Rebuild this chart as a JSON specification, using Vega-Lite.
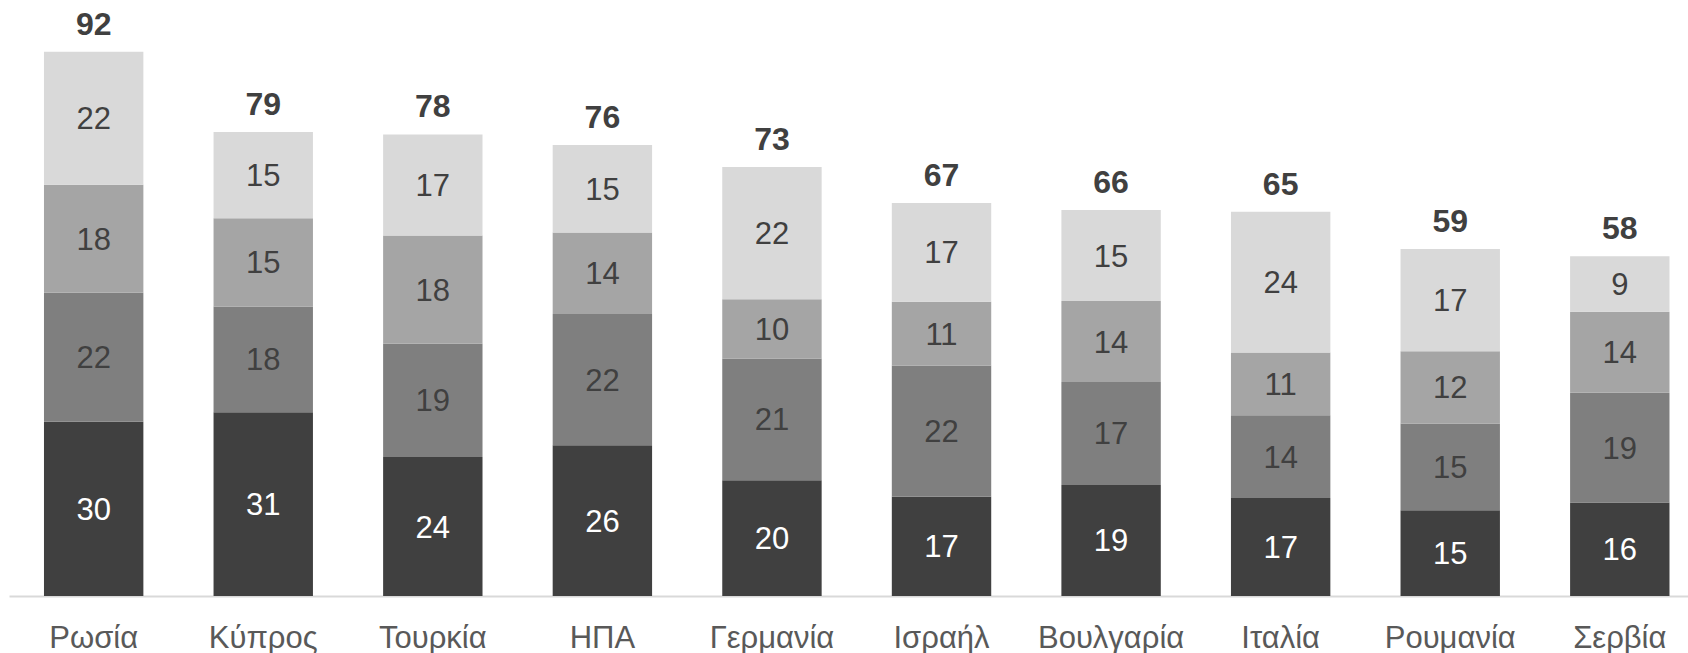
{
  "$schema": "https://vega.github.io/schema/vega-lite/v6.json",
  "autosize": {"type": "none"},
  "padding": {"left": 9, "top": 5, "right": 0, "bottom": 57},
  "width": 1679,
  "height": 591,
  "data": {
    "values": [
      {"country": "Ρωσία", "seg": "seg1", "value": 29.5, "label": 30, "total": 92},
      {"country": "Ρωσία", "seg": "seg2", "value": 21.8, "label": 22, "total": 92},
      {"country": "Ρωσία", "seg": "seg3", "value": 18.3, "label": 18, "total": 92},
      {"country": "Ρωσία", "seg": "seg4", "value": 22.5, "label": 22, "total": 92},
      {"country": "Κύπρος", "seg": "seg1", "value": 31.1, "label": 31, "total": 79},
      {"country": "Κύπρος", "seg": "seg2", "value": 17.9, "label": 18, "total": 79},
      {"country": "Κύπρος", "seg": "seg3", "value": 14.9, "label": 15, "total": 79},
      {"country": "Κύπρος", "seg": "seg4", "value": 14.6, "label": 15, "total": 79},
      {"country": "Τουρκία", "seg": "seg1", "value": 23.5, "label": 24, "total": 78},
      {"country": "Τουρκία", "seg": "seg2", "value": 19.2, "label": 19, "total": 78},
      {"country": "Τουρκία", "seg": "seg3", "value": 18.3, "label": 18, "total": 78},
      {"country": "Τουρκία", "seg": "seg4", "value": 17.1, "label": 17, "total": 78},
      {"country": "ΗΠΑ", "seg": "seg1", "value": 25.5, "label": 26, "total": 76},
      {"country": "ΗΠΑ", "seg": "seg2", "value": 22.2, "label": 22, "total": 76},
      {"country": "ΗΠΑ", "seg": "seg3", "value": 13.8, "label": 14, "total": 76},
      {"country": "ΗΠΑ", "seg": "seg4", "value": 14.8, "label": 15, "total": 76},
      {"country": "Γερμανία", "seg": "seg1", "value": 19.6, "label": 20, "total": 73},
      {"country": "Γερμανία", "seg": "seg2", "value": 20.6, "label": 21, "total": 73},
      {"country": "Γερμανία", "seg": "seg3", "value": 10.0, "label": 10, "total": 73},
      {"country": "Γερμανία", "seg": "seg4", "value": 22.4, "label": 22, "total": 73},
      {"country": "Ισραήλ", "seg": "seg1", "value": 16.8, "label": 17, "total": 67},
      {"country": "Ισραήλ", "seg": "seg2", "value": 22.2, "label": 22, "total": 67},
      {"country": "Ισραήλ", "seg": "seg3", "value": 10.8, "label": 11, "total": 67},
      {"country": "Ισραήλ", "seg": "seg4", "value": 16.7, "label": 17, "total": 67},
      {"country": "Βουλγαρία", "seg": "seg1", "value": 18.8, "label": 19, "total": 66},
      {"country": "Βουλγαρία", "seg": "seg2", "value": 17.4, "label": 17, "total": 66},
      {"country": "Βουλγαρία", "seg": "seg3", "value": 13.7, "label": 14, "total": 66},
      {"country": "Βουλγαρία", "seg": "seg4", "value": 15.4, "label": 15, "total": 66},
      {"country": "Ιταλία", "seg": "seg1", "value": 16.6, "label": 17, "total": 65},
      {"country": "Ιταλία", "seg": "seg2", "value": 14.0, "label": 14, "total": 65},
      {"country": "Ιταλία", "seg": "seg3", "value": 10.6, "label": 11, "total": 65},
      {"country": "Ιταλία", "seg": "seg4", "value": 23.8, "label": 24, "total": 65},
      {"country": "Ρουμανία", "seg": "seg1", "value": 14.5, "label": 15, "total": 59},
      {"country": "Ρουμανία", "seg": "seg2", "value": 14.7, "label": 15, "total": 59},
      {"country": "Ρουμανία", "seg": "seg3", "value": 12.2, "label": 12, "total": 59},
      {"country": "Ρουμανία", "seg": "seg4", "value": 17.3, "label": 17, "total": 59},
      {"country": "Σερβία", "seg": "seg1", "value": 15.8, "label": 16, "total": 58},
      {"country": "Σερβία", "seg": "seg2", "value": 18.6, "label": 19, "total": 58},
      {"country": "Σερβία", "seg": "seg3", "value": 13.7, "label": 14, "total": 58},
      {"country": "Σερβία", "seg": "seg4", "value": 9.4, "label": 9, "total": 58}
    ]
  },
  "encoding": {
    "x": {
      "field": "country",
      "type": "nominal",
      "sort": null,
      "scale": {"paddingInner": 0.4138, "paddingOuter": 0.1577, "align": 0.654, "round": false},
      "axis": {
        "title": null,
        "labelAngle": 0,
        "ticks": false,
        "tickSize": 0,
        "labelFont": "Liberation Sans",
        "labelFontSize": 31,
        "labelColor": "#595959",
        "labelBaseline": "alphabetic",
        "labelPadding": 51,
        "domainColor": "#d9d9d9",
        "domainWidth": 2,
        "grid": false
      }
    }
  },
  "layer": [
    {
      "mark": {"type": "bar"},
      "encoding": {
        "y": {"field": "value", "type": "quantitative", "stack": "zero", "scale": {"domain": [0, 100], "nice": false}, "axis": null},
        "color": {
          "field": "seg",
          "type": "nominal",
          "scale": {"domain": ["seg1", "seg2", "seg3", "seg4"], "range": ["#404040", "#7f7f7f", "#a5a5a5", "#d9d9d9"]},
          "legend": null
        },
        "order": {"field": "seg", "sort": "ascending"}
      }
    },
    {
      "transform": [
        {"stack": "value", "groupby": ["country"], "sort": [{"field": "seg", "order": "ascending"}], "as": ["y0", "y1"]},
        {"calculate": "(datum.y0 + datum.y1) / 2", "as": "mid"}
      ],
      "mark": {"type": "text", "font": "Liberation Sans", "fontSize": 31, "baseline": "middle", "dy": 2},
      "encoding": {
        "y": {"field": "mid", "type": "quantitative", "scale": {"domain": [0, 100], "nice": false}, "axis": null},
        "text": {"field": "label", "type": "quantitative"},
        "color": {"condition": {"test": "datum.seg === 'seg1'", "value": "#ffffff"}, "value": "#404040"}
      }
    },
    {
      "transform": [
        {"aggregate": [{"op": "sum", "field": "value", "as": "top"}, {"op": "max", "field": "total", "as": "tot"}], "groupby": ["country"]}
      ],
      "mark": {"type": "text", "font": "Liberation Sans", "fontSize": 32, "fontWeight": "bold", "baseline": "alphabetic", "dy": -17, "color": "#404040"},
      "encoding": {
        "y": {"field": "top", "type": "quantitative", "scale": {"domain": [0, 100], "nice": false}, "axis": null},
        "text": {"field": "tot", "type": "quantitative"}
      }
    }
  ],
  "config": {"view": {"stroke": null}}
}
